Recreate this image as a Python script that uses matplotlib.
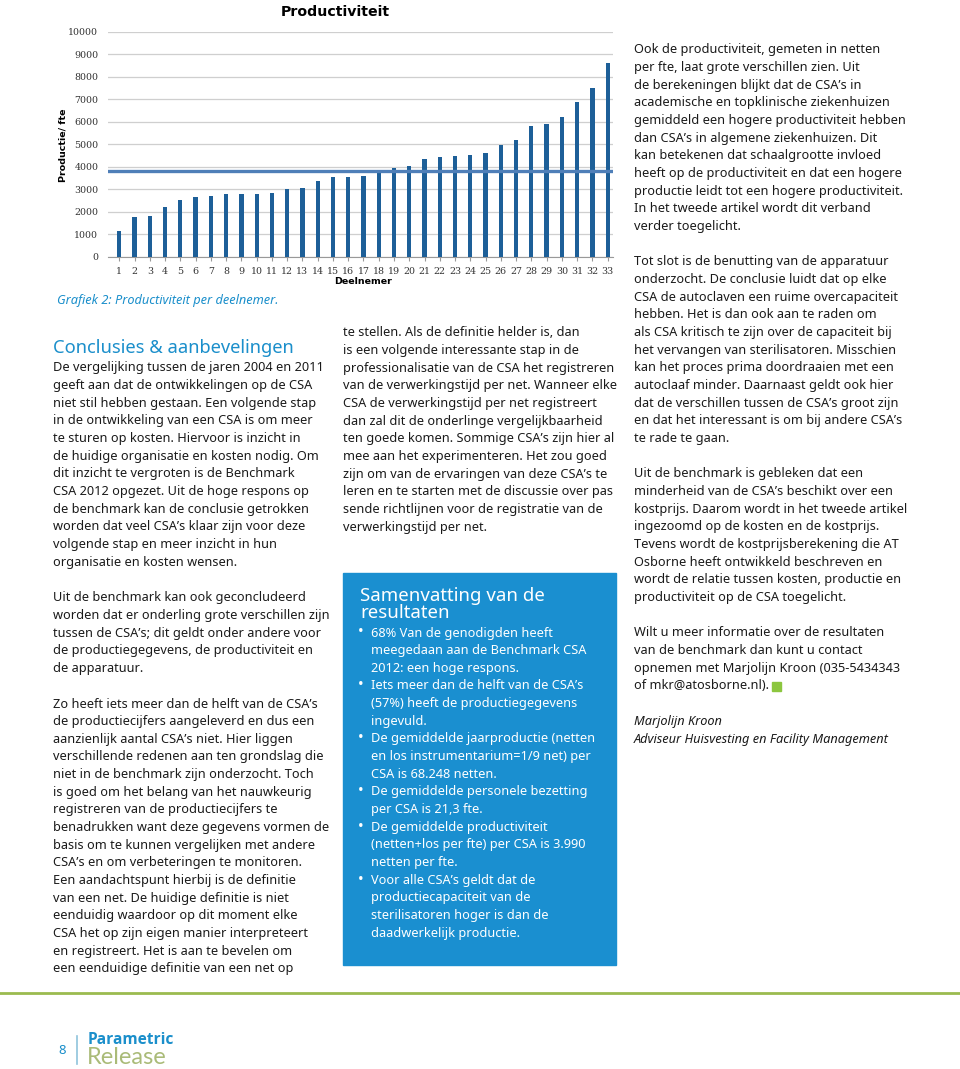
import matplotlib
matplotlib.use("Agg")
import matplotlib.pyplot as plt
from matplotlib.patches import Rectangle

# bar chart data: productivity per participant (netten per fte)
deelnemers = list(range(1, 34))
productie_per_fte = [1150, 1760, 1800, 2200, 2540, 2650, 2700, 2780, 2780, 2780,
                     2850, 3000, 3050, 3380, 3530, 3550, 3590, 3780, 3930, 4060,
                     4360, 4450, 4500, 4530, 4610, 4960, 5210, 5800, 5920, 6200,
                     6870, 7500, 8610]
gemiddelde = 3830
y_ticks = list(range(0, 10001, 1000))

W, H = 960, 1069
BODY = "Noto Sans"
FS = 9.2
LH = 17.65
BLUE = "#1b8fcb"

fig = plt.figure(figsize=(W / 100, H / 100), dpi=100)


def fx(px):
    return px / W


def fy(py):
    return 1 - py / H


def put(x, y, s, **kw):
    kw.setdefault("family", BODY)
    kw.setdefault("fontsize", FS)
    kw.setdefault("color", "#1a1a1a")
    kw.setdefault("va", "center")
    fig.text(fx(x), fy(y), s, **kw)


def para(x, y0, lines, **kw):
    for i, s in enumerate(lines):
        put(x, y0 + i * LH, s, **kw)


# chart
ax = fig.add_axes([fx(108), fy(257), fx(613 - 108), (257 - 31.7) / H])
ax.bar(deelnemers, productie_per_fte, width=0.28, color="#1d5f98", zorder=3)
ax.axhline(gemiddelde, color="#4f7fb8", lw=2.4, zorder=4)
ax.set_xlim(0.26, 33.35)
ax.set_ylim(0, 10000)
ax.set_yticks(y_ticks)
ax.set_xticks(deelnemers)
ax.tick_params(axis="y", length=0, labelsize=6.8, pad=7)
ax.tick_params(axis="x", length=3, color="#999999", labelsize=6.8, pad=4)
for lab in ax.get_xticklabels() + ax.get_yticklabels():
    lab.set_family("DejaVu Serif")
    lab.set_color("#333333")
ax.yaxis.grid(True, color="#cfcfcf", lw=0.9, zorder=0)
for sp in ["left", "top", "right"]:
    ax.spines[sp].set_visible(False)
ax.spines["bottom"].set_color("#999999")
fig.text(fx(335), fy(12), "Productiviteit", ha="center", va="center",
         fontsize=10.2, fontweight="bold", family="DejaVu Sans")
fig.text(fx(63), fy(145), "Productie/ fte", ha="center", va="center",
         rotation=90, fontsize=6.8, fontweight="bold")
fig.text(fx(363), fy(281), "Deelnemer", ha="center", va="center",
         fontsize=6.8, fontweight="bold")

# column 1
put(57, 301, "Grafiek 2: Productiviteit per deelnemer.", color=BLUE, style="italic")
put(53, 348, "Conclusies & aanbevelingen", color=BLUE, fontsize=13.2)
para(53, 368, [
    "De vergelijking tussen de jaren 2004 en 2011",
    "geeft aan dat de ontwikkelingen op de CSA",
    "niet stil hebben gestaan. Een volgende stap",
    "in de ontwikkeling van een CSA is om meer",
    "te sturen op kosten. Hiervoor is inzicht in",
    "de huidige organisatie en kosten nodig. Om",
    "dit inzicht te vergroten is de Benchmark",
    "CSA 2012 opgezet. Uit de hoge respons op",
    "de benchmark kan de conclusie getrokken",
    "worden dat veel CSA\u2019s klaar zijn voor deze",
    "volgende stap en meer inzicht in hun",
    "organisatie en kosten wensen.",
])
para(53, 598, [
    "Uit de benchmark kan ook geconcludeerd",
    "worden dat er onderling grote verschillen zijn",
    "tussen de CSA\u2019s; dit geldt onder andere voor",
    "de productiegegevens, de productiviteit en",
    "de apparatuur.",
])
para(53, 704, [
    "Zo heeft iets meer dan de helft van de CSA\u2019s",
    "de productiecijfers aangeleverd en dus een",
    "aanzienlijk aantal CSA\u2019s niet. Hier liggen",
    "verschillende redenen aan ten grondslag die",
    "niet in de benchmark zijn onderzocht. Toch",
    "is goed om het belang van het nauwkeurig",
    "registreren van de productiecijfers te",
    "benadrukken want deze gegevens vormen de",
    "basis om te kunnen vergelijken met andere",
    "CSA\u2019s en om verbeteringen te monitoren.",
    "Een aandachtspunt hierbij is de definitie",
    "van een net. De huidige definitie is niet",
    "eenduidig waardoor op dit moment elke",
    "CSA het op zijn eigen manier interpreteert",
    "en registreert. Het is aan te bevelen om",
    "een eenduidige definitie van een net op",
])

# column 2
para(343, 333, [
    "te stellen. Als de definitie helder is, dan",
    "is een volgende interessante stap in de",
    "professionalisatie van de CSA het registreren",
    "van de verwerkingstijd per net. Wanneer elke",
    "CSA de verwerkingstijd per net registreert",
    "dan zal dit de onderlinge vergelijkbaarheid",
    "ten goede komen. Sommige CSA\u2019s zijn hier al",
    "mee aan het experimenteren. Het zou goed",
    "zijn om van de ervaringen van deze CSA\u2019s te",
    "leren en te starten met de discussie over pas",
    "sende richtlijnen voor de registratie van de",
    "verwerkingstijd per net.",
])
fig.patches.append(Rectangle((fx(343), fy(965)), fx(616 - 343), (965 - 573) / H,
                             transform=fig.transFigure, color="#1a8fd0", zorder=0))
put(360, 596, "Samenvatting van de", color="white", fontsize=13.4)
put(360, 613, "resultaten", color="white", fontsize=13.4)
bullets = [
    ["68% Van de genodigden heeft", "meegedaan aan de Benchmark CSA",
     "2012: een hoge respons."],
    ["Iets meer dan de helft van de CSA\u2019s", "(57%) heeft de productiegegevens",
     "ingevuld."],
    ["De gemiddelde jaarproductie (netten", "en los instrumentarium=1/9 net) per",
     "CSA is 68.248 netten."],
    ["De gemiddelde personele bezetting", "per CSA is 21,3 fte."],
    ["De gemiddelde productiviteit", "(netten+los per fte) per CSA is 3.990",
     "netten per fte."],
    ["Voor alle CSA\u2019s geldt dat de", "productiecapaciteit van de",
     "sterilisatoren hoger is dan de", "daadwerkelijk productie."],
]
row = 0
for b in bullets:
    put(358, 633 + row * LH, "\u2022", color="white", fontsize=11)
    para(371, 633 + row * LH, b, color="white")
    row += len(b)

# column 3
para(634, 50, [
    "Ook de productiviteit, gemeten in netten",
    "per fte, laat grote verschillen zien. Uit",
    "de berekeningen blijkt dat de CSA\u2019s in",
    "academische en topklinische ziekenhuizen",
    "gemiddeld een hogere productiviteit hebben",
    "dan CSA\u2019s in algemene ziekenhuizen. Dit",
    "kan betekenen dat schaalgrootte invloed",
    "heeft op de productiviteit en dat een hogere",
    "productie leidt tot een hogere productiviteit.",
    "In het tweede artikel wordt dit verband",
    "verder toegelicht.",
])
para(634, 262, [
    "Tot slot is de benutting van de apparatuur",
    "onderzocht. De conclusie luidt dat op elke",
    "CSA de autoclaven een ruime overcapaciteit",
    "hebben. Het is dan ook aan te raden om",
    "als CSA kritisch te zijn over de capaciteit bij",
    "het vervangen van sterilisatoren. Misschien",
    "kan het proces prima doordraaien met een",
    "autoclaaf minder. Daarnaast geldt ook hier",
    "dat de verschillen tussen de CSA\u2019s groot zijn",
    "en dat het interessant is om bij andere CSA\u2019s",
    "te rade te gaan.",
])
para(634, 474, [
    "Uit de benchmark is gebleken dat een",
    "minderheid van de CSA\u2019s beschikt over een",
    "kostprijs. Daarom wordt in het tweede artikel",
    "ingezoomd op de kosten en de kostprijs.",
    "Tevens wordt de kostprijsberekening die AT",
    "Osborne heeft ontwikkeld beschreven en",
    "wordt de relatie tussen kosten, productie en",
    "productiviteit op de CSA toegelicht.",
])
para(634, 633, [
    "Wilt u meer informatie over de resultaten",
    "van de benchmark dan kunt u contact",
    "opnemen met Marjolijn Kroon (035-5434343",
    "of mkr@atosborne.nl).",
])
fig.patches.append(Rectangle((fx(772), fy(691)), fx(9), 9 / H,
                             transform=fig.transFigure, color="#8cc63f"))
put(634, 721, "Marjolijn Kroon", style="italic")
put(634, 739, "Adviseur Huisvesting en Facility Management", style="italic")

# footer
fig.add_artist(plt.Line2D([0, 1], [fy(993), fy(993)], color="#9bbb4f", lw=2))
put(62, 1050, "8", color=BLUE, fontsize=9.5, ha="center")
fig.add_artist(plt.Line2D([fx(77), fx(77)], [fy(1036), fy(1064)], color="#8fc3dc", lw=1.2))
put(88, 1040, "Parametric", color=BLUE, fontsize=11.2, fontweight="bold", family="Open Sans")
put(87, 1057, "Release", color="#aabb78", fontsize=17, family="Lato")

fig.savefig("out.png", dpi=100)
